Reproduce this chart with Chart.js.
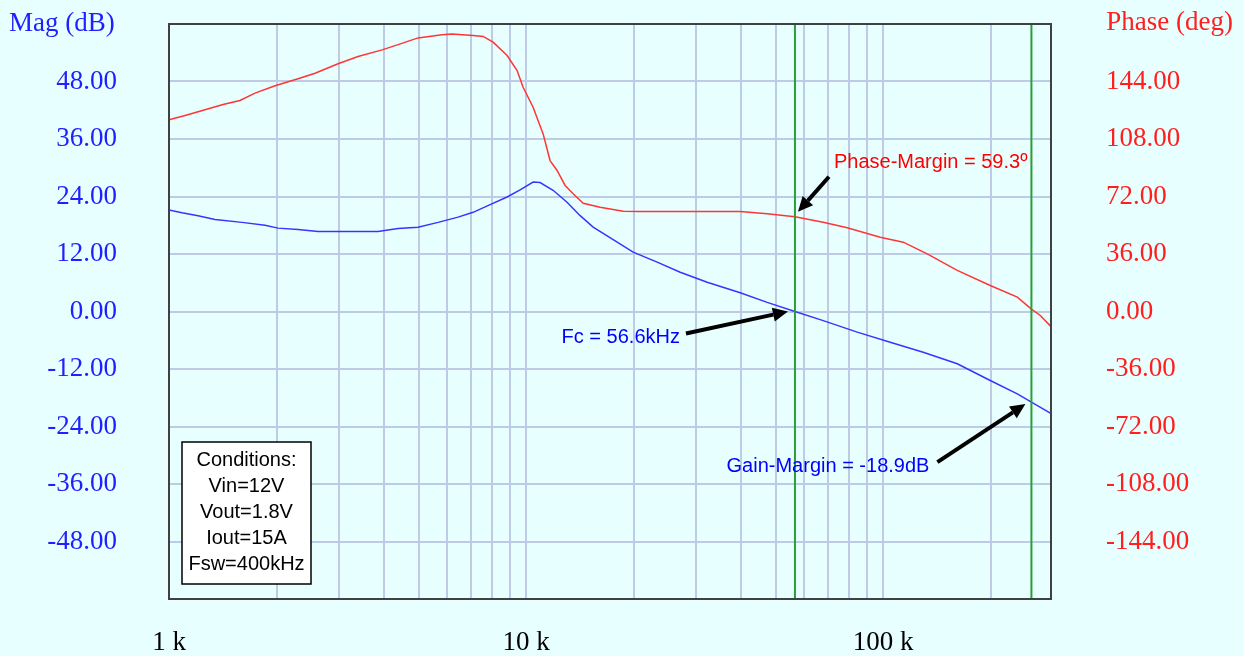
<!DOCTYPE html>
<html>
<head>
<meta charset="utf-8">
<script src="https://cdn.jsdelivr.net/npm/chart.js@4"></script>
<style>
  html, body { margin: 0; padding: 0; background: #e8ffff; }
  #wrap { width: 1244px; height: 656px; position: relative; }
</style>
</head>
<body>
<div id="wrap"><canvas id="bode"></canvas></div>
<script>
// magnitude curve (Hz, dB)
const magFreq = [1000, 1087, 1206, 1345, 1601, 1857, 2020, 2298, 2615, 3255, 3849, 4380, 4982, 5668, 6449,
  7105, 7929, 8847, 9620, 10460, 10940, 11900, 13020, 14170, 15410, 17530, 19940, 23280, 27010, 32140,
  39770, 47320, 56600, 67920, 84570, 104600, 129400, 161200, 199400, 237400, 260000, 293700];
const magDb = [21.2, 20.6, 20.0, 19.2, 18.6, 18.0, 17.4, 17.1, 16.7, 16.7, 16.7, 17.3, 17.6, 18.6, 19.7,
  20.7, 22.3, 23.9, 25.4, 27.0, 26.9, 25.3, 22.8, 20.0, 17.6, 15.0, 12.4, 10.3, 8.2, 6.1,
  3.9, 1.9, 0.0, -1.9, -4.3, -6.4, -8.5, -10.9, -14.4, -17.2, -18.9, -21.2];

// phase curve (Hz, deg)
const phaseFreq = [1000, 1109, 1261, 1417, 1580, 1741, 1981, 2298, 2564, 2974, 3384, 3951, 4380, 4982, 5816,
  6204, 7105, 7578, 8083, 8847, 9436, 9808, 10460, 11160, 11670, 12210, 12860, 13540, 14450, 16120,
  18700, 20860, 39770, 47320, 56600, 67920, 79300, 98090, 113800, 132800, 161200, 199400, 237400,
  260000, 275400, 293700];
const phaseDeg = [120.0, 122.7, 126.3, 129.6, 132.1, 136.7, 141.3, 145.7, 149.2, 155.1, 159.6, 163.8, 167.1, 171.3, 173.2,
  173.8, 172.8, 172.2, 168.6, 160.3, 150.9, 140.4, 127.9, 111.2, 94.5, 88.3, 78.9, 73.7, 67.8, 65.3,
  62.8, 62.6, 62.6, 61.2, 59.3, 55.9, 52.4, 46.5, 43.4, 36.1, 25.7, 16.3, 9.0,
  1.5, -2.5, -9.0];

const gridFreqs = [1000, 2000, 3000, 4000, 5000, 6000, 7000, 8000, 9000,
  10000, 20000, 30000, 40000, 50000, 60000, 70000, 80000, 90000, 100000, 200000];
const freqLabels = { 1000: '1 k', 10000: '10 k', 100000: '100 k' };

const crossFreq = 56600;       // Fc
const phaseCrossFreq = 260000; // where gain margin is read
const phaseMargin = 59.3;
const gainMargin = -18.9;
const conditions = ['Conditions:', 'Vin=12V', 'Vout=1.8V', 'Iout=15A', 'Fsw=400kHz'];

const serif = '"Liberation Serif", "Times New Roman", serif';
const sans = '"Liberation Sans", Arial, sans-serif';

function arrow(ctx, x1, y1, x2, y2) {
    const ang = Math.atan2(y2 - y1, x2 - x1);
    const len = 15, half = 7;
    const bx = x2 - len * Math.cos(ang), by = y2 - len * Math.sin(ang);
    ctx.strokeStyle = '#000';
    ctx.fillStyle = '#000';
    ctx.lineWidth = 4;
    ctx.beginPath();
    ctx.moveTo(x1, y1);
    ctx.lineTo(bx, by);
    ctx.stroke();
    ctx.beginPath();
    ctx.moveTo(x2, y2);
    ctx.lineTo(bx + half * Math.sin(ang), by - half * Math.cos(ang));
    ctx.lineTo(bx - half * Math.sin(ang), by + half * Math.cos(ang));
    ctx.closePath();
    ctx.fill();
}

const overlay = {
    id: 'overlay',
    afterDatasetsDraw(chart) {
        const { ctx, chartArea: a, scales } = chart;
        const x = scales.x, mag = scales.mag, ph = scales.phase;
        ctx.save();

        // plot frame
        ctx.strokeStyle = '#404040';
        ctx.lineWidth = 2;
        ctx.strokeRect(a.left, a.top, a.right - a.left, a.bottom - a.top);

        // axis titles
        ctx.font = '27px ' + serif;
        ctx.textBaseline = 'middle';
        ctx.fillStyle = '#1f1fff';
        ctx.textAlign = 'left';
        ctx.fillText('Mag (dB)', 9, 24);
        ctx.fillStyle = '#ff1f1f';
        ctx.textAlign = 'right';
        ctx.fillText('Phase (deg)', 1233, 23);

        ctx.font = '20px ' + sans;

        // phase margin
        const pmX = x.getPixelForValue(crossFreq), pmY = ph.getPixelForValue(phaseMargin);
        arrow(ctx, pmX + 34, pmY - 40, pmX + 3, pmY - 5);
        ctx.fillStyle = '#ff0000';
        ctx.textAlign = 'left';
        ctx.fillText('Phase-Margin = 59.3º', pmX + 39, pmY - 54);

        // crossover
        const fcX = x.getPixelForValue(crossFreq), fcY = mag.getPixelForValue(0);
        arrow(ctx, fcX - 109, fcY + 22, fcX - 7, fcY);
        ctx.fillStyle = '#0000ff';
        ctx.textAlign = 'right';
        ctx.fillText('Fc = 56.6kHz', fcX - 115, fcY + 26);

        // gain margin
        const gmX = x.getPixelForValue(phaseCrossFreq), gmY = mag.getPixelForValue(gainMargin);
        arrow(ctx, gmX - 94, gmY + 60, gmX - 6, gmY + 2);
        ctx.fillStyle = '#0000ff';
        ctx.textAlign = 'right';
        ctx.fillText('Gain-Margin = -18.9dB', gmX - 102, gmY + 64);

        // conditions box
        const bx = a.left + 13, by = a.bottom - 157, bw = 129, bh = 142;
        ctx.fillStyle = '#ffffff';
        ctx.fillRect(bx, by, bw, bh);
        ctx.strokeStyle = '#000';
        ctx.lineWidth = 1.5;
        ctx.strokeRect(bx, by, bw, bh);
        ctx.fillStyle = '#000';
        ctx.textAlign = 'center';
        conditions.forEach((t, i) => ctx.fillText(t, bx + bw / 2, by + 18 + i * 26.2));

        ctx.restore();
    }
};

// tick padding on a vertical axis also pads the chart top/bottom,
// so the label offset is done with invisible tick marks instead
new Chart(document.getElementById('bode'), {
    type: 'line',
    data: {
        datasets: [
            {
                label: 'Fc',
                data: [{ x: crossFreq, y: -60 }, { x: crossFreq, y: 60 }],
                yAxisID: 'mag',
                borderColor: '#2a9e35',
                borderWidth: 2,
                pointRadius: 0
            },
            {
                label: 'Phase cross',
                data: [{ x: phaseCrossFreq, y: -60 }, { x: phaseCrossFreq, y: 60 }],
                yAxisID: 'mag',
                borderColor: '#2a9e35',
                borderWidth: 2,
                pointRadius: 0
            },
            {
                label: 'Mag',
                data: magFreq.map((f, i) => ({ x: f, y: magDb[i] })),
                yAxisID: 'mag',
                borderColor: '#3535ff',
                borderWidth: 1.5,
                pointRadius: 0,
                tension: 0
            },
            {
                label: 'Phase',
                data: phaseFreq.map((f, i) => ({ x: f, y: phaseDeg[i] })),
                yAxisID: 'phase',
                borderColor: '#ff3535',
                borderWidth: 1.5,
                pointRadius: 0,
                tension: 0
            }
        ]
    },
    options: {
        responsive: true,
        maintainAspectRatio: false,
        animation: false,
        layout: { padding: { top: 24, left: 0, right: 0, bottom: 0 } },
        plugins: {
            legend: { display: false },
            tooltip: { enabled: false }
        },
        scales: {
            x: {
                type: 'logarithmic',
                min: 1000,
                max: 295000,
                afterBuildTicks: s => { s.ticks = gridFreqs.map(v => ({ value: v })); },
                afterFit: s => { s.height = 57; },
                grid: { color: '#bfcbe4', lineWidth: 2, drawTicks: false },
                border: { display: false },
                ticks: {
                    autoSkip: false,
                    maxRotation: 0,
                    padding: 28,
                    color: '#000',
                    font: { family: serif, size: 27 },
                    callback: v => freqLabels[v] || ''
                }
            },
            mag: {
                position: 'left',
                min: -60,
                max: 60,
                afterFit: s => { s.width = 169; },
                grid: { color: '#bfcbe4', lineWidth: 2, drawTicks: true, tickLength: 52, tickColor: 'rgba(0,0,0,0)' },
                border: { display: false },
                ticks: {
                    stepSize: 12,
                    padding: 0,
                    color: '#1f1fff',
                    font: { family: serif, size: 27 },
                    callback: v => Math.abs(v) >= 60 ? '' : v.toFixed(2)
                }
            },
            phase: {
                position: 'right',
                min: -180,
                max: 180,
                afterFit: s => { s.width = 193; },
                grid: { drawOnChartArea: false, drawTicks: true, tickLength: 55, tickColor: 'rgba(0,0,0,0)' },
                border: { display: false },
                ticks: {
                    stepSize: 36,
                    padding: 0,
                    color: '#ff1f1f',
                    font: { family: serif, size: 27 },
                    callback: v => Math.abs(v) >= 180 ? '' : v.toFixed(2)
                }
            }
        }
    },
    plugins: [overlay]
});
</script>
</body>
</html>
